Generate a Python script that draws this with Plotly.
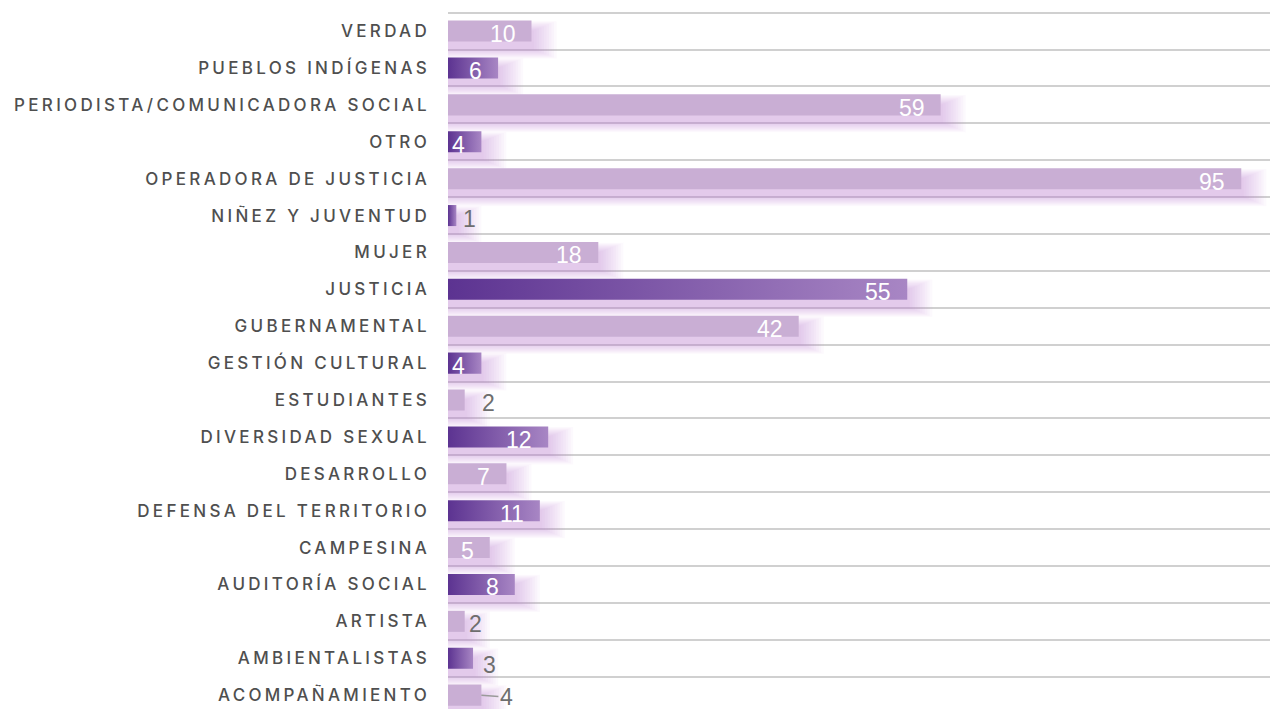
import plotly.graph_objects as go

# Data, top to bottom as shown in the chart
categories = [
    "VERDAD", "PUEBLOS INDÍGENAS", "PERIODISTA/COMUNICADORA SOCIAL", "OTRO",
    "OPERADORA DE JUSTICIA", "NIÑEZ Y JUVENTUD", "MUJER", "JUSTICIA",
    "GUBERNAMENTAL", "GESTIÓN CULTURAL", "ESTUDIANTES", "DIVERSIDAD SEXUAL",
    "DESARROLLO", "DEFENSA DEL TERRITORIO", "CAMPESINA", "AUDITORÍA SOCIAL",
    "ARTISTA", "AMBIENTALISTAS", "ACOMPAÑAMIENTO",
]
values = [10, 6, 59, 4, 95, 1, 18, 55, 42, 4, 2, 12, 7, 11, 5, 8, 2, 3, 4]

# Styling
LIGHT = "#c9aed4"
DARK_SCALE = [[0, "#5c3391"], [1, "#a886c4"]]
GLOW = "rgba(182,112,198,0.045)"
BAR_W = 0.57
LABEL_GRAY = "#6e6e6e"

# label placement for short bars (pixel shifts), everything else sits inside
outside_shift = {
    "NIÑEZ Y JUVENTUD": (5, -3),
    "ESTUDIANTES": (15, -3),
    "ARTISTA": (2, -3),
    "AMBIENTALISTAS": (8, -7),
}
leader_label = "ACOMPAÑAMIENTO"

idx = list(range(len(categories)))
is_dark = [i % 2 == 1 for i in idx]

fig = go.Figure()

# Soft glow beneath every bar (stacked translucent layers)
glow_layers = [(0.3 * k, 0.46 + 0.055 * k) for k in range(1, 11)]
for ext, w in glow_layers:
    fig.add_trace(go.Bar(
        y=[i + 0.24 for i in idx],
        x=[v + ext for v in values],
        orientation="h",
        width=w,
        marker=dict(color=GLOW, line=dict(width=0)),
        hoverinfo="skip",
        showlegend=False,
    ))

# Light bars
fig.add_trace(go.Bar(
    y=[i for i in idx if not is_dark[i]],
    x=[values[i] for i in idx if not is_dark[i]],
    orientation="h",
    width=BAR_W,
    marker=dict(color=LIGHT, line=dict(width=0)),
    hovertext=[categories[i] for i in idx if not is_dark[i]],
    showlegend=False,
))

# Dark bars with a left-to-right gradient
h = BAR_W / 2
for i in idx:
    if not is_dark[i]:
        continue
    v = values[i]
    fig.add_trace(go.Scatter(
        x=[0, v, v, 0, 0],
        y=[i - h, i - h, i + h, i + h, i - h],
        mode="lines",
        fill="toself",
        fillgradient=dict(type="horizontal", colorscale=DARK_SCALE),
        line=dict(width=0, color="rgba(0,0,0,0)"),
        hoverinfo="skip",
        showlegend=False,
    ))

# Value labels
for i, (cat, v) in enumerate(zip(categories, values)):
    if cat in outside_shift:
        dx, dy = outside_shift[cat]
        fig.add_annotation(x=v, y=i, text=str(v), showarrow=False,
                           xanchor="left", xshift=dx, yshift=dy,
                           font=dict(size=23, color=LABEL_GRAY, family="Liberation Sans"))
    elif cat == leader_label:
        fig.add_annotation(x=v, y=i, text=str(v), showarrow=True,
                           ax=25, ay=2, arrowhead=0, arrowwidth=1.5,
                           arrowcolor="#9a9a9a", standoff=0,
                           font=dict(size=23, color=LABEL_GRAY, family="Liberation Sans"))
    else:
        fig.add_annotation(x=v, y=i, text=str(v), showarrow=False,
                           xanchor="right", xshift=-14, yshift=-3,
                           font=dict(size=23, color="white", family="Liberation Sans"))

fig.update_layout(
    width=1270,
    height=709,
    margin=dict(l=448, r=0, t=0, b=0),
    paper_bgcolor="white",
    plot_bgcolor="white",
    barmode="overlay",
    showlegend=False,
)
fig.update_xaxes(range=[0, 98.44], visible=False, fixedrange=True)
fig.update_yaxes(
    range=[18.376, -0.843],
    tickmode="array",
    tickvals=idx,
    ticktext=categories,
    showgrid=False,
    zeroline=False,
    ticks="",
    ticklabelstandoff=17,
    tickfont=dict(size=17, color="#4f4f4f", family="Inter", weight=500),
    minor=dict(tickvals=[i - 0.5 for i in idx], showgrid=True,
               gridcolor="#d0d0d0", gridwidth=1.5, ticks=""),
    fixedrange=True,
)

# no page margin, and wide letter spacing on the category labels
post = """
document.body.style.margin = '0';
var gd = document.getElementById('{plot_id}');
function spaceLabels(){
  gd.querySelectorAll('.ytick text').forEach(function(t){ t.style.letterSpacing = '3.3px'; });
}
spaceLabels();
gd.on('plotly_afterplot', spaceLabels);
"""

fig.write_html("out.html", post_script=post, config={"displayModeBar": False})
